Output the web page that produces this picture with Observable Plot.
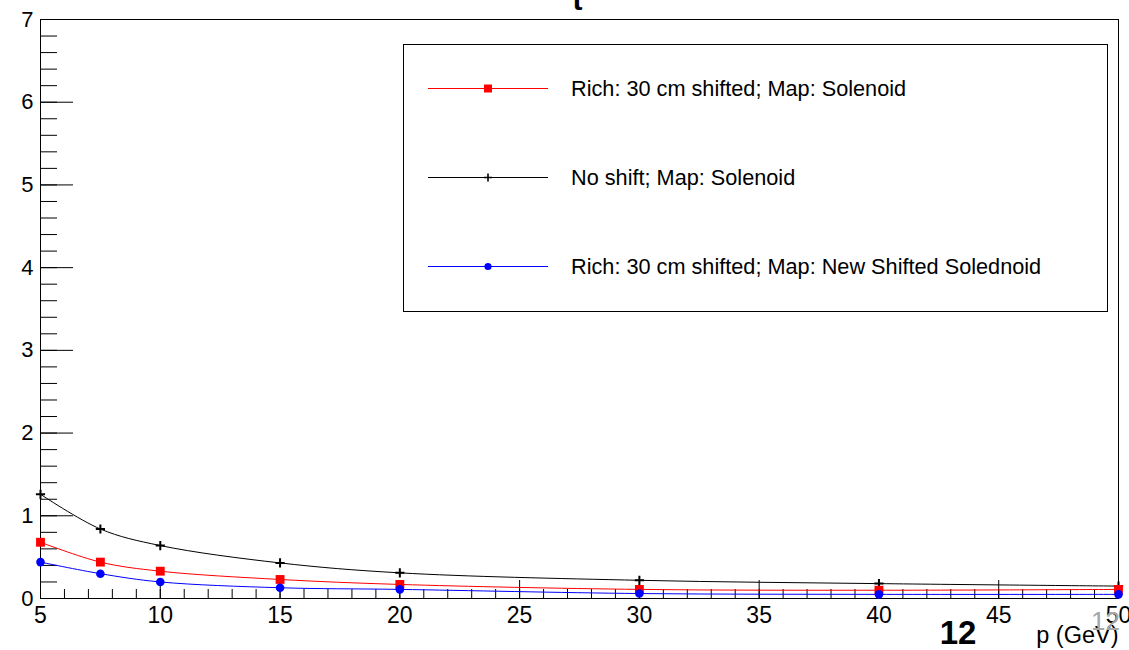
<!DOCTYPE html>
<html>
<head>
<meta charset="utf-8">
<script src="https://cdn.jsdelivr.net/npm/d3@7"></script>
<script src="https://cdn.jsdelivr.net/npm/@observablehq/plot@0.6"></script>
<style>
  html, body { margin: 0; padding: 0; background: #fff; }
  #chart { position: relative; width: 1129px; height: 650px; overflow: hidden;
           font-family: "Liberation Sans", Arial, Helvetica, sans-serif; }
  #chart > svg { display: block; }
  #legend { position: absolute; left: 403px; top: 44px; }
</style>
</head>
<body>
<div id="chart"></div>
<script>
// Momentum points (GeV) and the resolution of each configuration
const p = [5, 7.5, 10, 15, 20, 30, 40, 50];
const richShiftedSolenoid = [0.68, 0.44, 0.33, 0.23, 0.17, 0.11, 0.10, 0.11];
const noShiftSolenoid = [1.26, 0.84, 0.64, 0.43, 0.31, 0.22, 0.18, 0.15];
const richShiftedNewSolenoid = [0.44, 0.30, 0.20, 0.13, 0.11, 0.06, 0.05, 0.05];

const seriesNames = [
  "Rich: 30 cm shifted; Map: Solenoid",
  "No shift; Map: Solenoid",
  "Rich: 30 cm shifted; Map: New Shifted Solednoid"
];

// Axis ticks
const xMajor = [5, 10, 15, 20, 25, 30, 35, 40, 45, 50];
const yMajor = [0, 1, 2, 3, 4, 5, 6, 7];
const xLabel = "p (GeV)";
const title = "t";
const pageNumber = "12";

const xMinor = d3.range(5, 50.001, 1);
const yMinor = d3.range(0, 7.001, 0.2);

const FONT = '"Liberation Sans", Arial, Helvetica, sans-serif';

// Plus marker drawn as two strokes whose half-length equals the dot radius
const plusSymbol = {
  draw(context, size) {
    const r = Math.sqrt(size / Math.PI);
    context.moveTo(-r, 0); context.lineTo(r, 0);
    context.moveTo(0, -r); context.lineTo(0, r);
  }
};

const series = [
  {name: seriesNames[1], values: noShiftSolenoid, color: "#000000", symbol: plusSymbol, r: 4.6, filled: false},
  {name: seriesNames[0], values: richShiftedSolenoid, color: "#ff0000", symbol: "square", r: 5, filled: true},
  {name: seriesNames[2], values: richShiftedNewSolenoid, color: "#0000ff", symbol: "circle", r: 4.3, filled: true}
];

const seriesMarks = series.flatMap(s => {
  const rows = p.map((x, i) => ({p: x, v: s.values[i]}));
  return [
    Plot.line(rows, {x: "p", y: "v", stroke: s.color, strokeWidth: 1, curve: "catmull-rom"}),
    Plot.dot(rows, {
      x: "p", y: "v", symbol: () => s.symbol, r: s.r,
      fill: s.filled ? s.color : "none",
      stroke: s.filled ? "none" : s.color,
      strokeWidth: s.filled ? 0 : 2
    })
  ];
});

const chart = Plot.plot({
  width: 1129,
  height: 650,
  marginLeft: 40,
  marginRight: 11,
  marginTop: 19,
  marginBottom: 52,
  x: {domain: [5, 50]},
  y: {domain: [0, 7]},
  symbol: {type: "identity"},
  style: {fontFamily: FONT, background: "#fff", color: "#000"},
  marks: [
    Plot.frame({stroke: "#000", strokeWidth: 1}),
    // inward ticks along the bottom and left axes
    Plot.ruleX(xMinor, {y1: 0, y2: 0, insetTop: -9, stroke: "#000"}),
    Plot.ruleX(xMajor, {y1: 0, y2: 0, insetTop: -18, stroke: "#000"}),
    Plot.ruleY(yMinor, {x1: 5, x2: 5, insetRight: -17, stroke: "#000"}),
    Plot.ruleY(yMajor, {x1: 5, x2: 5, insetRight: -33, stroke: "#000"}),
    Plot.axisX(xMajor, {tickSize: 0, tickPadding: 8, fontSize: 23, label: null, tickFormat: d => String(d)}),
    Plot.axisY(yMajor, {tickSize: 0, tickPadding: 7, fontSize: 22, label: null, tickFormat: d => String(d)}),
    ...seriesMarks,
    Plot.text([xLabel], {frameAnchor: "bottom-right", textAnchor: "end", lineAnchor: "bottom", dy: 44, fontSize: 23.5}),
    Plot.text([title], {frameAnchor: "top", lineAnchor: "bottom", dy: -10, dx: -2, fontSize: 30, fontWeight: "bold"}),
    Plot.text([pageNumber], {frameAnchor: "bottom-left", textAnchor: "middle", lineAnchor: "bottom", dx: 917.5, dy: 45, fontSize: 33, fontWeight: "bold"}),
    Plot.text([pageNumber], {frameAnchor: "bottom-left", textAnchor: "middle", lineAnchor: "bottom", dx: 1065, dy: 31, fontSize: 26, fill: "#a6a6a6"})
  ]
});

const root = document.getElementById("chart");
root.appendChild(chart);

// Legend box
const legendOrder = [
  {name: seriesNames[0], color: "#ff0000", kind: "square"},
  {name: seriesNames[1], color: "#000000", kind: "plus"},
  {name: seriesNames[2], color: "#0000ff", kind: "circle"}
];
const LW = 705, LH = 268;
const legend = d3.create("svg")
  .attr("id", "legend")
  .attr("width", LW)
  .attr("height", LH)
  .style("font-family", FONT);
legend.append("rect")
  .attr("x", 0.5).attr("y", 0.5)
  .attr("width", LW - 1).attr("height", LH - 1)
  .attr("fill", "#fff").attr("stroke", "#000");
const rowH = (LH - 1) / legendOrder.length;
legendOrder.forEach((d, i) => {
  const cy = Math.round(rowH * (i + 0.5)) - 0.5;
  const g = legend.append("g").attr("transform", `translate(0,${cy})`);
  g.append("line").attr("x1", 25).attr("x2", 145).attr("y1", 0).attr("y2", 0)
    .attr("stroke", d.color).attr("stroke-width", 1);
  if (d.kind === "square") {
    g.append("rect").attr("x", 85 - 4).attr("y", -4).attr("width", 8).attr("height", 8).attr("fill", d.color);
  } else if (d.kind === "circle") {
    g.append("circle").attr("cx", 85).attr("cy", 0).attr("r", 3.6).attr("fill", d.color);
  } else {
    g.append("path").attr("d", "M81,0H89M85,-4V4").attr("stroke", d.color).attr("stroke-width", 1.6);
  }
  g.append("text").attr("x", 168).attr("y", 0).attr("dy", "0.35em")
    .attr("font-size", 21.7).attr("fill", "#000").text(d.name);
});
root.appendChild(legend.node());
</script>
</body>
</html>
